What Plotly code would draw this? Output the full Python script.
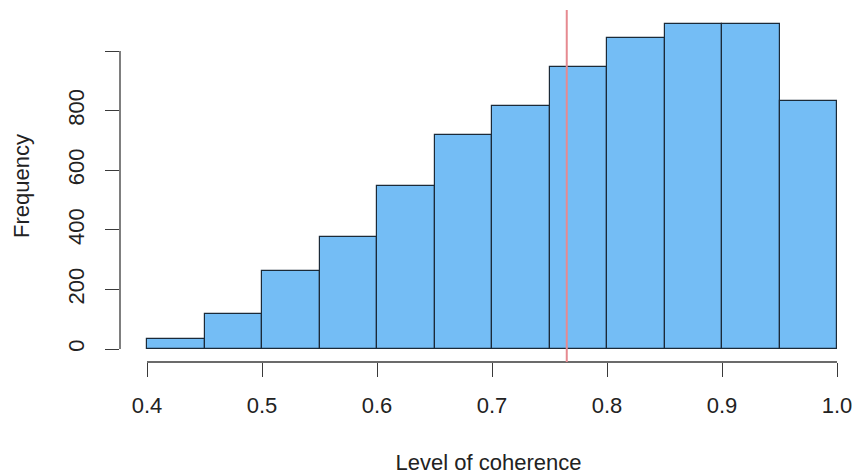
import plotly.graph_objects as go

# Data
bin_edges = [0.40, 0.45, 0.50, 0.55, 0.60, 0.65, 0.70, 0.75, 0.80, 0.85, 0.90, 0.95, 1.00]
counts = [33, 118, 263, 376, 547, 717, 815, 948, 1042, 1092, 1092, 831]
mean_line = 0.765
x_ticks = [0.4, 0.5, 0.6, 0.7, 0.8, 0.9, 1.0]
x_tick_labels = ["0.4", "0.5", "0.6", "0.7", "0.8", "0.9", "1.0"]
y_ticks = [0, 200, 400, 600, 800, 1000]
y_tick_labels = ["0", "200", "400", "600", "800", ""]

centers = [(bin_edges[i] + bin_edges[i + 1]) / 2 for i in range(len(counts))]
widths = [bin_edges[i + 1] - bin_edges[i] for i in range(len(counts))]

FONT = "Liberation Sans, Arial, sans-serif"
AXC = "#3a3a3a"

fig = go.Figure()
fig.add_trace(go.Bar(
    x=centers, y=counts, width=widths,
    marker=dict(color="#74BDF5", line=dict(color="#1b2a38", width=1.2)),
    showlegend=False, hoverinfo="x+y",
))

# axis lines spanning only the tick range (R style)
fig.add_shape(type="line", xref="x", yref="paper", x0=x_ticks[0], x1=x_ticks[-1], y0=0, y1=0,
              line=dict(color=AXC, width=1.3))
fig.add_shape(type="line", xref="paper", yref="y", x0=0, x1=0, y0=y_ticks[0], y1=y_ticks[-1],
              line=dict(color=AXC, width=1.3))
# vertical reference line
fig.add_shape(type="line", xref="x", yref="paper", x0=mean_line, x1=mean_line, y0=0, y1=1,
              line=dict(color="#E68A90", width=2))

fig.update_layout(
    width=857, height=476,
    margin=dict(l=120, r=0, t=10, b=114),
    paper_bgcolor="white", plot_bgcolor="white",
    font=dict(family=FONT, size=22, color="#222222"),
    bargap=0,
    xaxis=dict(
        range=[0.37652, 1.01739], showgrid=False, zeroline=False, showline=False,
        tickmode="array", tickvals=x_ticks, ticktext=x_tick_labels,
        ticks="outside", ticklen=14, tickwidth=1.3, tickcolor=AXC,
        ticklabelstandoff=10,
        tickfont=dict(family=FONT, size=22, color="#222222"),
        title=dict(text="Level of coherence", font=dict(family=FONT, size=22, color="#222222"), standoff=37),
    ),
    yaxis=dict(
        range=[-43.6, 1137.6], showgrid=False, zeroline=False, showline=False,
        tickmode="array", tickvals=y_ticks, ticktext=y_tick_labels,
        ticks="outside", ticklen=14, tickwidth=1.3, tickcolor=AXC,
        tickangle=-90, ticklabelstandoff=12,
        tickfont=dict(family=FONT, size=22, color="#222222"),
        title=dict(text="Frequency", font=dict(family=FONT, size=22, color="#222222"), standoff=28),
    ),
)

fig.write_html("out.html", config={"displayModeBar": False},
               post_script="document.body.style.margin='0';document.body.style.overflow='hidden';")
